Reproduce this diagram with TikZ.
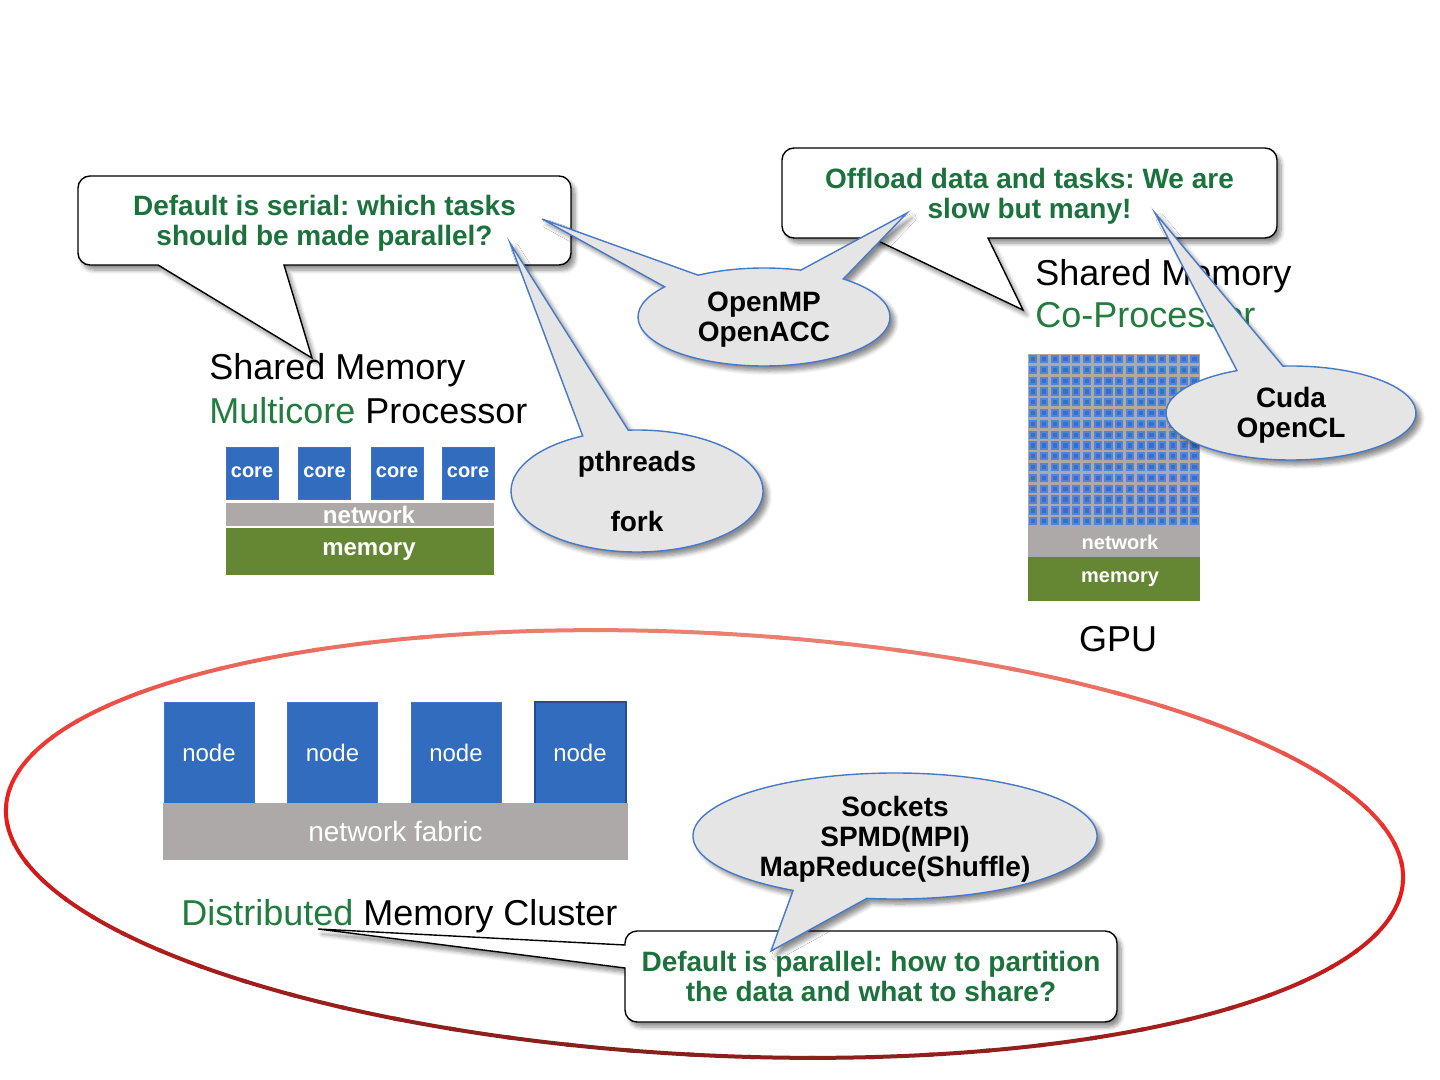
\documentclass[tikz,border=0pt]{standalone}
\usepackage{fontspec}
\setmainfont{Liberation Sans}
\usetikzlibrary{calc,shadows.blur}
\definecolor{coreBlue}{RGB}{49,108,191}
\definecolor{coreEdge}{RGB}{68,114,196}
\definecolor{nodeEdgeDark}{RGB}{38,78,140}
\definecolor{netGray}{RGB}{173,169,168}
\definecolor{memGreen}{RGB}{101,135,52}
\definecolor{sayGreen}{RGB}{28,114,60}
\definecolor{labelGreen}{RGB}{34,124,62}
\definecolor{bubbleGray}{RGB}{229,229,229}
\definecolor{bubbleBlue}{RGB}{72,120,200}
\definecolor{gpuOuter}{RGB}{82,132,216}
\definecolor{gpuInner}{RGB}{56,110,198}
\definecolor{ringTop}{RGB}{234,128,112}
\definecolor{ringMid}{RGB}{236,26,26}
\definecolor{ringBot}{RGB}{135,32,28}
\tikzset{
  lbl/.style={font=\fontsize{18}{20}\selectfont, inner sep=0pt},
  saytext/.style={font=\fontsize{14}{15}\selectfont\bfseries, text=sayGreen, align=center, inner sep=0pt},
  libtext/.style={font=\fontsize{14}{15}\selectfont\bfseries, align=center, inner sep=0pt},
  callbox/.style={fill=white, draw=black, line width=0.7pt,
    blur shadow={shadow xshift=2pt, shadow yshift=-2.5pt, shadow blur steps=6, shadow opacity=45}},
  bubble/.style={fill=bubbleGray, draw=bubbleBlue, line width=0.7pt,
    blur shadow={shadow xshift=2.5pt, shadow yshift=-2.5pt, shadow blur steps=6, shadow opacity=45}},
  core/.style={fill=coreBlue, draw=coreEdge, line width=0.5pt, inner sep=0pt,
    minimum width=26pt, minimum height=25.5pt, text=white, font=\fontsize{10}{12}\selectfont\bfseries},
  clnode/.style={fill=coreBlue, draw=coreEdge, line width=0.5pt, inner sep=0pt,
    minimum width=45pt, minimum height=50.5pt, text=white, font=\fontsize{12}{14}\selectfont},
  netbar/.style={fill=netGray, inner sep=0pt, text=white},
  membar/.style={fill=memGreen, inner sep=0pt, text=white},
  ring/.style={line width=2pt, line cap=round}
}
\begin{document}
\frenchspacing
\begin{tikzpicture}[x=0.5pt,y=-0.5pt]
\useasboundingbox (0,0) rectangle (1440,1080);

% cluster ring, red shading round the ellipse
\begin{scope}[shift={(704.5,844)}, rotate=-3]
\foreach \a in {0,5,...,355}{
  \pgfmathsetmacro\ptop{max(0,-sin(\a+2.5))*100}
  \pgfmathsetmacro\pbot{max(0,sin(\a+2.5))*100}
  \colorlet{ringB}{ringBot!\pbot!ringMid}
  \colorlet{ringC}{ringTop!\ptop!ringB}
  \draw[ring, ringC] (\a:699.5 and 211) arc[start angle=\a, end angle=\a+5.5, x radius=699.5, y radius=211];
}
\end{scope}

% multicore
\node[lbl, anchor=base west] (mcshared) at (209,380) {Shared Memory};
\node[lbl, anchor=base west] (mcproc) at (209,423) {\textcolor{labelGreen}{Multicore} Processor};
\foreach \x [count=\k] in {252,324.5,397,468}
  \node[core] (core\k) at (\x,473.5) {\raisebox{1pt}{core}};
\node[netbar, minimum width=134pt, minimum height=11.5pt, font=\fontsize{12}{14}\selectfont\bfseries] (mcnet) at (360,514.5) {\hspace{9pt}network};
\node[membar, minimum width=134pt, minimum height=23.5pt, font=\fontsize{12}{14}\selectfont\bfseries] (mcmem) at (360,551.5) {\hspace{9pt}memory};

% gpu
\node[lbl, anchor=base west] (gpushared) at (1035,286) {Shared Memory};
\node[lbl, anchor=base west, text=labelGreen] (gpuproc) at (1035,328) {Co-Processor};
\node[fill=netGray, minimum width=86pt, minimum height=86.5pt, inner sep=0pt] (gpucores) at (1114,440.5) {};
\foreach \i in {0,...,15}
  \foreach \j in {0,...,15}{
    \fill[gpuOuter] (1029+\i*10.75,355+\j*10.8) rectangle ++(8.3,8.3);
    \fill[gpuInner] (1031+\i*10.75,357+\j*10.8) rectangle ++(4.3,4.3);
  }
\node[netbar, minimum width=86pt, minimum height=15pt, font=\fontsize{10}{12}\selectfont\bfseries] (gpunet) at (1114,542) {\hspace{6pt}network};
\node[membar, minimum width=86pt, minimum height=22pt, font=\fontsize{10}{12}\selectfont\bfseries] (gpumem) at (1114,579) {\hspace{6pt}memory};
\node[lbl, anchor=base] (gpulbl) at (1118,651) {GPU};

% cluster
\foreach \x [count=\k] in {209,332.5,456,580}
  \node[clnode] (node\k) at (\x,752.5) {node};
\draw[nodeEdgeDark, line width=1pt] (node4.north west) rectangle (node4.south east);
\node[netbar, minimum width=232.5pt, minimum height=28.5pt, font=\fontsize{14}{16}\selectfont] (fabric) at (395.5,831.5) {network fabric};
\node[lbl, anchor=base west] (distlbl) at (181,925) {\textcolor{labelGreen}{Distributed} Memory Cluster};

% callout boxes
\coordinate (serialtip) at (312,358);
\draw[callbox] (284,265) [rounded corners=6pt] -- (571,265) -- (571,176) -- (78,176) -- (78,265) [sharp corners] -- (158,265) -- (serialtip) -- cycle;
\node[saytext, yshift=-1.5pt] (serial) at (324.5,220.5) {Default is serial: which tasks\\should be made parallel?};

\coordinate (offloadtip) at (1023,310);
\draw[callbox] (988,238) [rounded corners=6pt] -- (1277,238) -- (1277,148) -- (782,148) -- (782,238) [sharp corners] -- (872,238) -- (offloadtip) -- cycle;
\node[saytext, yshift=-1.5pt] (offload) at (1029.5,193) {Offload data and tasks: We are\\slow but many!};

\coordinate (paralleltip) at (318,929);
\draw[callbox] (625,968) [rounded corners=6pt] -- (625,1022) -- (1117,1022) -- (1117,931) -- (625,931) [sharp corners] -- (625,945) -- (paralleltip) -- cycle;
\node[saytext] (parallel) at (871,976.5) {Default is parallel: how to partition\\the data and what to share?};

% bubbles
\coordinate (ompc) at (764,317);
\coordinate (omptipL) at (542,219);
\coordinate (omptipR) at (907,213);
\draw[bubble] ($(ompc)+(309:126 and 49)$) arc[start angle=309, end angle=578, x radius=126, y radius=49] -- (omptipL)
  -- ($(ompc)+(238.5:126 and 49)$) arc[start angle=238.5, end angle=287, x radius=126, y radius=49] -- (omptipR) -- cycle;
\node[libtext, yshift=-1.5pt] (omp) at (ompc) {OpenMP\\OpenACC};

\coordinate (ptc) at (637,491);
\coordinate (pttip) at (510,243);
\draw[bubble] ($(ptc)+(266:126 and 61)$) arc[start angle=266, end angle=604.5, x radius=126, y radius=61] -- (pttip) -- cycle;
\node[libtext] (pthr) at (ptc) {pthreads\\[15pt]fork};

\coordinate (cudac) at (1291,413);
\coordinate (cudatip) at (1155,213);
\draw[bubble] ($(cudac)+(266.3:125 and 47)$) arc[start angle=266.3, end angle=604.4, x radius=125, y radius=47] -- (cudatip) -- cycle;
\node[libtext, yshift=-1pt] (cuda) at (cudac) {Cuda\\OpenCL};

\coordinate (sockc) at (895,836);
\coordinate (socktip) at (771,951);
\draw[bubble] ($(sockc)+(120.3:202 and 63)$) arc[start angle=120.3, end angle=458, x radius=202, y radius=63] -- (socktip) -- cycle;
\node[libtext, yshift=-1.5pt] (sock) at (sockc) {Sockets\\SPMD(MPI)\\MapReduce(Shuffle)};
\end{tikzpicture}
\end{document}
